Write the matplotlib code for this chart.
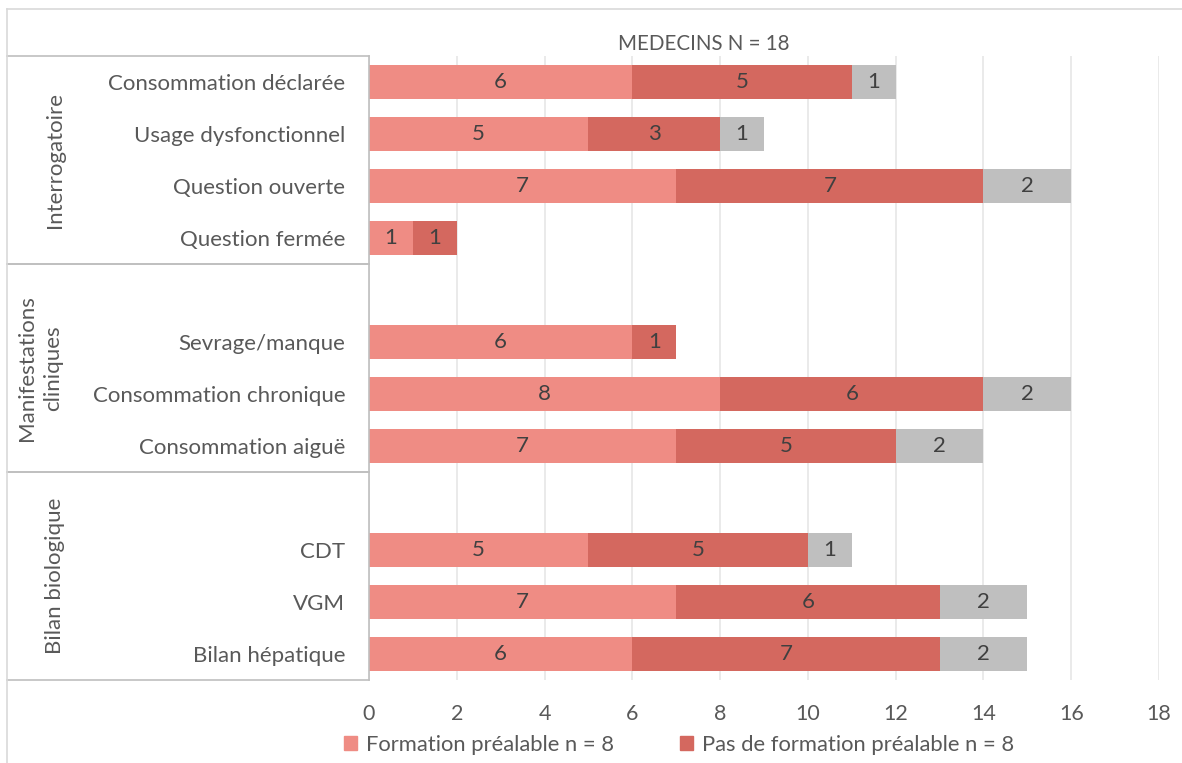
import matplotlib
matplotlib.use("Agg")
import matplotlib.pyplot as plt
import matplotlib.transforms as mtransforms
from matplotlib.lines import Line2D
from matplotlib.patches import Patch

categories = ["Consommation déclarée", "Usage dysfonctionnel", "Question ouverte",
              "Question fermée", "", "Sevrage/manque", "Consommation chronique",
              "Consommation aiguë", "", "CDT", "VGM", "Bilan hépatique"]
formation = [6, 5, 7, 1, 0, 6, 8, 7, 0, 5, 7, 6]
pas_formation = [5, 3, 7, 1, 0, 1, 6, 5, 0, 5, 6, 7]
autre = [1, 1, 2, 0, 0, 0, 2, 2, 0, 1, 2, 2]
series_labels = ["Formation préalable n = 8", "Pas de formation préalable n = 8"]
groups = ["Interrogatoire", "Manifestations\ncliniques", "Bilan biologique"]
group_bounds = [(-0.5, 3.5), (3.5, 7.5), (7.5, 11.5)]
title = "MEDECINS N = 18"
xticks = list(range(0, 19, 2))

plt.rcParams['font.family'] = ['Lato', 'DejaVu Sans']
W, H = 1182, 763
fig = plt.figure(figsize=(W / 100, H / 100), dpi=100)
ax = fig.add_axes([369 / W, 1 - 680 / H, (1159 - 369) / W, (680 - 56) / H])

c1, c2, c3 = "#EF8C84", "#D4685F", "#BFBFBF"
txt = "#404040"
lab = "#595959"
y = list(range(len(categories)))
h = 0.65
ax.barh(y, formation, height=h, color=c1, zorder=2)
ax.barh(y, pas_formation, left=formation, height=h, color=c2, zorder=2)
left3 = [a + b for a, b in zip(formation, pas_formation)]
ax.barh(y, autre, left=left3, height=h, color=c3, zorder=2)

for i in y:
    segs = [(0, formation[i]), (formation[i], pas_formation[i]), (left3[i], autre[i])]
    for l, v in segs:
        if v > 0:
            ax.text(l + v / 2, i, str(v), ha="center", va="center", fontsize=16, color=txt, zorder=3)

ax.set_xlim(0, 18)
ax.set_ylim(11.5, -0.5)
ax.set_xticks(xticks)
ax.set_xticklabels([str(t) for t in xticks], fontsize=15.5, color=lab)
ax.set_yticks(y)
ax.set_yticklabels(categories, fontsize=16, color=lab)
ax.tick_params(axis="both", length=0)
ax.tick_params(axis="x", pad=17)
ax.tick_params(axis="y", pad=17)
ax.grid(axis="x", color="#E6E6E6", linewidth=1.2, zorder=0)
for s in ["top", "right", "bottom"]:
    ax.spines[s].set_visible(False)
ax.spines["left"].set_color("#BFBFBF")
ax.spines["left"].set_linewidth(1.2)

# group boxes
trans = mtransforms.blended_transform_factory(fig.transFigure, ax.transData)
x0, x1 = 7 / W, 369 / W
for (a, b), g in zip(group_bounds, groups):
    for yy in (a, b):
        fig.add_artist(Line2D([x0, x1], [yy, yy], transform=trans, color="#BFBFBF", lw=1.2))
    xc = 40 / W if "\n" in g else 55 / W
    fig.text(xc, (a + b) / 2, g, transform=trans, rotation=90, ha="center", va="center",
             fontsize=16, color=lab, linespacing=1.35)

# chart frame
fig.add_artist(Line2D([7 / W, 1.0], [1 - 9 / H, 1 - 9 / H], transform=fig.transFigure, color="#D9D9D9", lw=1.2))
fig.add_artist(Line2D([7 / W, 7 / W], [1 - 9 / H, 0], transform=fig.transFigure, color="#D9D9D9", lw=1.2))

fig.text(704 / W, 1 - 44 / H, title, ha="center", va="center", fontsize=14.8, color=lab)

handles = [Patch(color=c1), Patch(color=c2)]
fig.legend(handles, series_labels, loc="center", bbox_to_anchor=(679 / W, 1 - 745 / H), ncol=2,
           frameon=False, fontsize=15.8, labelcolor=lab, handlelength=0.6, handleheight=0.6,
           handletextpad=0.4, columnspacing=3.0)

fig.savefig("out.png", dpi=100)
